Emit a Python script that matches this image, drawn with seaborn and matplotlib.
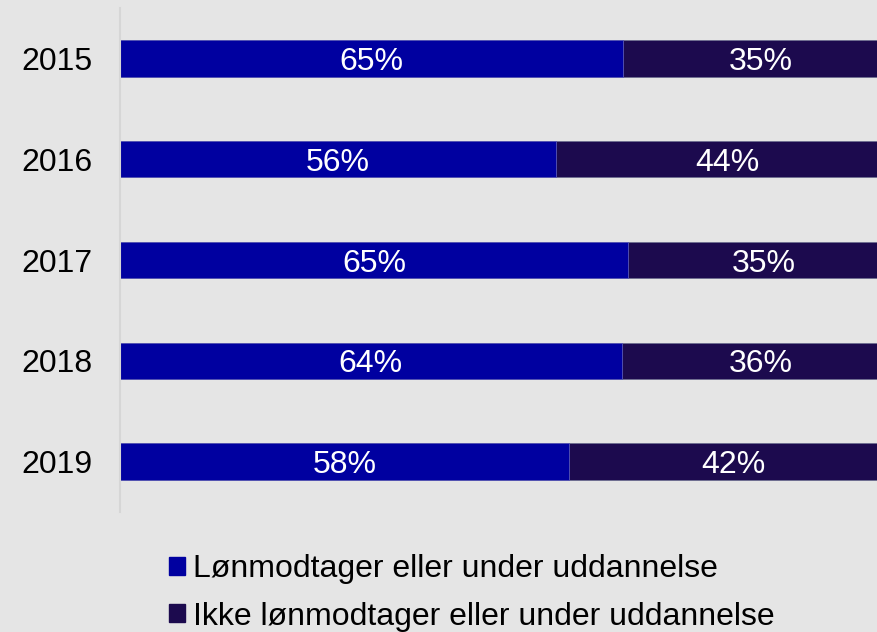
import pandas as pd
import matplotlib.pyplot as plt
import seaborn as sns
from matplotlib.patches import Patch

# values (share in %)
years = ["2015", "2016", "2017", "2018", "2019"]
employed = [64.6, 56.0, 65.2, 64.4, 57.6]
not_employed = [35.4, 44.0, 34.8, 35.6, 42.4]
employed_labels = ["65%", "56%", "65%", "64%", "58%"]
not_employed_labels = ["35%", "44%", "35%", "36%", "42%"]
series_names = ["Lønmodtager eller under uddannelse",
                "Ikke lønmodtager eller under uddannelse"]

blue = "#0000a0"
dark = "#1c0a4e"
bg = "#e5e5e5"
fs = 23

sns.set_style("white")
plt.rcParams['font.family'] = ['Liberation Sans', 'DejaVu Sans']
plt.rcParams['text.color'] = 'black'
plt.rcParams['ytick.color'] = 'black'

df = pd.DataFrame({"year": years, "employed": employed, "not_employed": not_employed})
df["total"] = df["employed"] + df["not_employed"]

fig = plt.figure(figsize=(8.78, 6.32), dpi=100, facecolor=bg)
ax = fig.add_axes([120 / 878, 1 - 512 / 632, 779 / 878, 504 / 632])
ax.set_facecolor(bg)

# stacked: draw the total in dark, then the first segment in blue on top
sns.barplot(data=df, x="total", y="year", orient="h", color=dark, width=0.36,
            saturation=1, edgecolor="#6e6e90", linewidth=0.6, ax=ax)
sns.barplot(data=df, x="employed", y="year", orient="h", color=blue, width=0.36,
            saturation=1, edgecolor="#5a5ab8", linewidth=0.6, ax=ax)

for i in range(len(years)):
    ax.text(employed[i] / 2, i, employed_labels[i], color="white", fontsize=fs,
            ha="center", va="center_baseline")
    ax.text(employed[i] + not_employed[i] / 2, i, not_employed_labels[i], color="white",
            fontsize=fs, ha="center", va="center_baseline")

ax.set_xlim(0, 100)
ax.set_ylim(4.5, -0.5)
ax.set_xlabel("")
ax.set_ylabel("")
ax.set_xticks([])
ax.tick_params(axis="y", length=0, pad=20, labelsize=fs, labelcolor="black")
for side in ["top", "right", "bottom"]:
    ax.spines[side].set_visible(False)
ax.spines["left"].set_color("#d6d6d6")
ax.spines["left"].set_linewidth(1.5)

handles = [Patch(facecolor=blue, edgecolor=blue), Patch(facecolor=dark, edgecolor=dark)]
fig.legend(handles, series_names, loc="upper left", bbox_to_anchor=(169 / 878, 1 - 554 / 632),
           frameon=False, fontsize=fs, handlelength=0.5, handleheight=0.5,
           handletextpad=0.25, labelspacing=0.55, borderpad=0, borderaxespad=0)

fig.savefig("out.png", dpi=100, facecolor=bg)
